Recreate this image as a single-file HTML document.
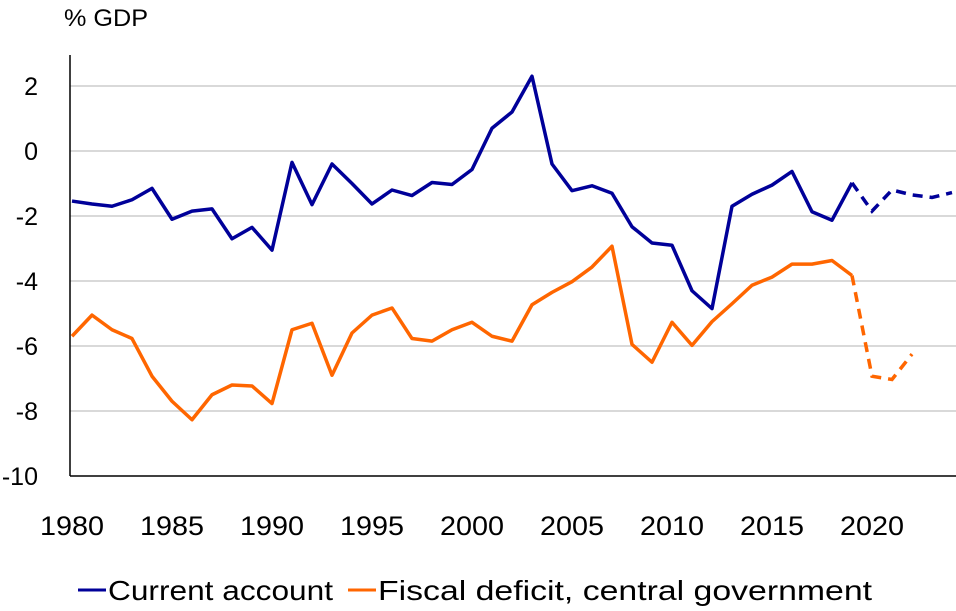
<!DOCTYPE html>
<html><head><meta charset="utf-8"><style>
body{margin:0;background:#fff;}
svg{display:block;font-family:"Liberation Sans",sans-serif;}
</style></head><body>
<svg id="chart" width="956" height="611" viewBox="0 0 956 611">
<text x="64" y="26" font-size="24" textLength="84" lengthAdjust="spacingAndGlyphs" fill="#000">% GDP</text>
<g id="grid"></g><g id="ylab"></g><g id="xlab"></g><g id="series"></g>
<g>
<line x1="78" y1="590" x2="106" y2="590" stroke="#000099" stroke-width="3"/>
<text x="108" y="600" font-size="28" textLength="225" lengthAdjust="spacingAndGlyphs">Current account</text>
<line x1="348" y1="590" x2="376" y2="590" stroke="#ff6600" stroke-width="3"/>
<text x="378" y="600" font-size="28" textLength="494" lengthAdjust="spacingAndGlyphs">Fiscal deficit, central government</text>
</g>
</svg>
<script>
const years=[];for(let y=1980;y<=2024;y++)years.push(y);
const currentAccount=[-1.54,-1.63,-1.7,-1.5,-1.15,-2.1,-1.85,-1.78,-2.7,-2.35,-3.05,-0.35,-1.65,-0.4,-1.0,-1.63,-1.2,-1.37,-0.97,-1.03,-0.57,0.7,1.2,2.3,-0.4,-1.22,-1.07,-1.3,-2.33,-2.83,-2.9,-4.3,-4.85,-1.7,-1.33,-1.05,-0.63,-1.87,-2.13,-0.98,-1.85,-1.2,-1.35,-1.43,-1.28];
const fiscalDeficit=[-5.7,-5.05,-5.5,-5.77,-6.93,-7.7,-8.27,-7.5,-7.2,-7.23,-7.77,-5.5,-5.3,-6.9,-5.6,-5.05,-4.83,-5.77,-5.85,-5.5,-5.27,-5.7,-5.85,-4.73,-4.35,-4.02,-3.57,-2.93,-5.95,-6.5,-5.27,-5.98,-5.25,-4.7,-4.13,-3.88,-3.48,-3.48,-3.37,-3.83,-6.93,-7.03,-6.25];
const forecastStart=2019;
const yTicks=[2,0,-2,-4,-6,-8,-10];
const xTicks=[1980,1985,1990,1995,2000,2005,2010,2015,2020];
const X=y=>72+(y-1980)*20, Y=v=>151-v*32.5;
const NS="http://www.w3.org/2000/svg";
function mk(t,a,p){const e=document.createElementNS(NS,t);for(const k in a)e.setAttribute(k,a[k]);p.appendChild(e);return e;}
const grid=document.getElementById('grid'),yl=document.getElementById('ylab'),xl=document.getElementById('xlab'),ser=document.getElementById('series');
yTicks.forEach(v=>{
 if(v!==-10){const l=mk('line',{x1:70,x2:956,y1:Y(v),y2:Y(v),stroke:'#d9d9d9','stroke-width':2},grid);
 
 }
 const t=mk('text',{x:38,y:Y(v)+9,'font-size':25,'text-anchor':'end'},yl);t.textContent=v;
 
 
});
const ax=mk('line',{x1:70,x2:70,y1:55,y2:476,stroke:'#000','stroke-width':1.5},grid);


const xa=mk('line',{x1:70,x2:956,y1:476,y2:476,stroke:'#000','stroke-width':1.5},grid);


xTicks.forEach(y=>{const t=mk('text',{x:X(y),y:535,'font-size':27,'text-anchor':'middle',textLength:64,lengthAdjust:'spacingAndGlyphs'},xl);t.textContent=y;
 
 });
function draw(vals,color,name){
 const solid=[],dash=[];
 vals.forEach((v,i)=>{const y=years[i];const p=X(y)+','+Y(v);if(y<=forecastStart)solid.push(p);if(y>=forecastStart)dash.push(p);});
 const a=mk('polyline',{points:solid.join(' '),fill:'none',stroke:color,'stroke-width':3.5,'stroke-linejoin':'round'},ser);
 
 
 const b=mk('polyline',{points:dash.join(' '),fill:'none',stroke:color,'stroke-width':3.5,'stroke-dasharray':'10,7'},ser);
 
 
}
draw(currentAccount,'#000099','current-account');
draw(fiscalDeficit,'#ff6600','fiscal-deficit');
</script>
</body></html>
